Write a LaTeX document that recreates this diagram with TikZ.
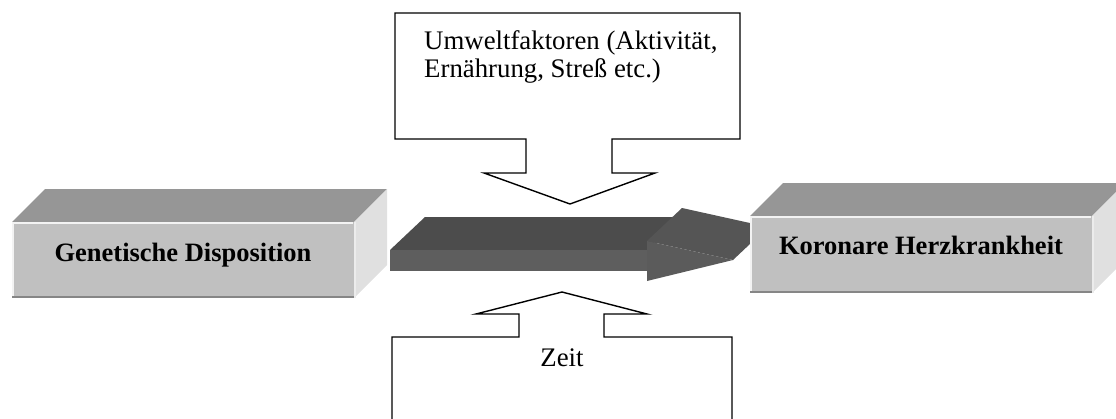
\documentclass[tikz,border=0pt]{standalone}
\usepackage{fontspec}
\setmainfont{Liberation Serif}
\begin{document}
\begin{tikzpicture}[x=1pt,y=-1pt,
  blockfront/.style={fill=frontgray},
  blocktop/.style={fill=topgray},
  blockside/.style={fill=sidegray},
  callout/.style={draw=black,line width=1.4pt,fill=white,line join=miter},
  blocklabel/.style={font=\fontsize{26.5}{30}\selectfont\bfseries,anchor=base,inner sep=0pt},
  calloutlabel/.style={font=\fontsize{26.8}{27.5}\selectfont,inner sep=0pt}]
\definecolor{frontgray}{HTML}{C0C0C0}
\definecolor{topgray}{HTML}{969696}
\definecolor{sidegray}{HTML}{E0E0E0}
\definecolor{shafttop}{HTML}{4C4C4C}
\definecolor{shaftfront}{HTML}{5E5E5E}
\definecolor{headtop}{HTML}{555555}
\definecolor{headfront}{HTML}{5B5B5B}
\useasboundingbox (0,0) rectangle (1116,418);
\clip (0,0) rectangle (1116,418);

% left block: Genetische Disposition
\fill[blocktop] (12,222) -- (45,189) -- (387,189) -- (354,222) -- cycle;
\fill[blockside] (354,222) -- (387,189) -- (387,265) -- (354,298) -- cycle;
\fill[blockfront] (12,222) rectangle (354,298);
\draw[white!80!frontgray,line width=1.5pt] (12.8,297) -- (12.8,222.8) -- (353,222.8);
\draw[black!30!frontgray,line width=1.5pt] (12,297.2) -- (354,297.2);
\draw[white!40!sidegray,line width=1.5pt] (354.8,222) -- (354.8,298);
\node[blocklabel] (gen) at (183,261) {Genetische Disposition};

% wide arrow between the blocks
\fill[shafttop] (390,250) -- (425,217) -- (682,217) -- (647,250) -- cycle;
\fill[shaftfront] (390,250) rectangle (647,271);
\fill[headtop] (647,241) -- (682,208) -- (768,227) -- (733,260) -- cycle;
\fill[headfront] (647,241) -- (733,260) -- (647,281) -- cycle;

% right block: Koronare Herzkrankheit
\fill[blocktop] (750,216) -- (783,183) -- (1125,183) -- (1092,216) -- cycle;
\fill[blockside] (1092,216) -- (1125,183) -- (1125,260) -- (1092,293) -- cycle;
\fill[blockfront] (750,216) rectangle (1092,293);
\draw[white!80!frontgray,line width=1.5pt] (750.8,292) -- (750.8,216.8) -- (1091,216.8);
\draw[black!30!frontgray,line width=1.5pt] (750,292.2) -- (1092,292.2);
\draw[white!40!sidegray,line width=1.5pt] (1092.8,216) -- (1092.8,293);
\node[blocklabel] (khk) at (921,254) {Koronare Herzkrankheit};

% callout pointing down onto the arrow
\draw[callout] (395,13) -- (740,13) -- (740,139) -- (612,139) -- (612,173)
  -- (655,173) -- (570,204) -- (484,173) -- (526,173) -- (526,139)
  -- (395,139) -- cycle;
\node[calloutlabel,anchor=base west,align=left] (umw) at (424,77)
  {Umweltfaktoren (Aktivität,\\Ernährung, Streß etc.)};

% callout pointing up onto the arrow
\draw[callout] (392,440) -- (392,337) -- (519,337) -- (519,314) -- (476,314)
  -- (562,292) -- (647,314) -- (604,314) -- (604,337) -- (732,337) -- (732,440);
\node[calloutlabel,anchor=base] (zeit) at (562,366) {Zeit};
\end{tikzpicture}
\end{document}
